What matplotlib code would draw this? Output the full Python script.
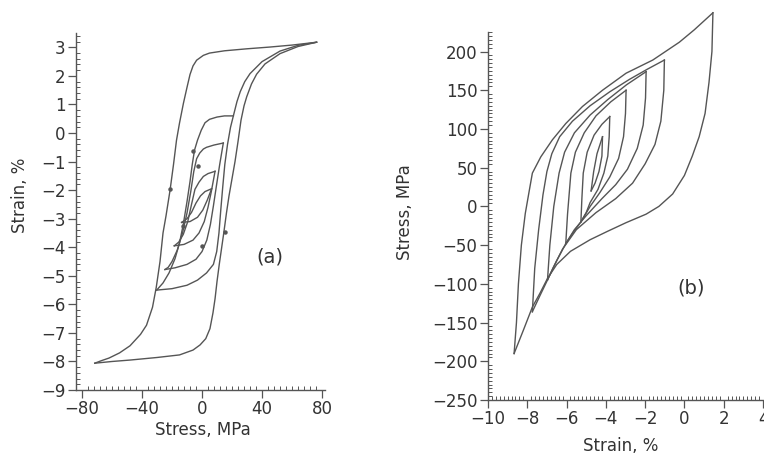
import matplotlib
matplotlib.use("Agg")
import matplotlib.pyplot as plt
from matplotlib.ticker import MultipleLocator
import numpy as np

# ---------------- Panel (a): Strain (%) vs Stress (MPa) ----------------
a_outer_down = [(76.4, 3.18), (60, 3.08), (45, 3.01), (30, 2.95), (15, 2.88), (5, 2.8), (0.9, 2.72),
                (-3.6, 2.55), (-6, 2.35), (-8, 2.05), (-10, 1.6), (-12.4, 1.04), (-15, 0.35),
                (-17, -0.25), (-19, -1.1), (-21.3, -2.0), (-24, -2.9), (-26, -3.5), (-28, -4.5),
                (-30.5, -5.4), (-33, -6.1), (-37, -6.73), (-41, -7.05), (-48, -7.45), (-55, -7.7),
                (-62, -7.88), (-67, -7.97), (-71.5, -8.06)]
a_outer_up = [(-71.5, -8.06), (-60, -8.0), (-48, -7.95), (-30, -7.86), (-15, -7.77), (-6, -7.6),
              (-1.3, -7.42), (2.5, -7.2), (5.3, -6.85), (7.3, -6.3), (8.7, -5.8), (10, -5.2),
              (11.5, -4.6), (13, -4.05), (14.5, -3.5), (16.3, -2.8), (18, -2.2), (20, -1.6),
              (22, -1.0), (24, -0.3), (26, 0.45), (28, 0.95), (29.8, 1.27), (33, 1.72),
              (36.4, 2.06), (42, 2.42), (52, 2.78), (64, 3.03), (76.4, 3.18)]
a_loop2_down = [(20.9, 0.6), (15, 0.6), (10, 0.56), (5, 0.48), (2, 0.36), (-0.5, 0.1), (-3.0, -0.25),
                (-5.0, -0.6), (-6.5, -1.1), (-8, -1.7), (-10, -2.4), (-12.5, -3.2), (-15, -3.85),
                (-18, -4.4), (-22, -4.9), (-26, -5.25), (-30.2, -5.5)]
a_loop2_up = [(-30.2, -5.5), (-20, -5.45), (-10, -5.33), (-3, -5.15), (3, -4.9), (7.6, -4.6),
              (9.8, -4.15), (11.3, -3.5), (12.5, -2.7), (13.8, -1.9), (15.2, -1.1), (17, -0.4),
              (19, 0.2), (20.9, 0.6), (23.3, 1.1), (25.5, 1.45), (28.5, 1.8), (32, 2.08),
              (40, 2.5), (52, 2.87), (64, 3.07), (76.4, 3.18)]
a_loop3_down = [(14.2, -0.35), (8, -0.42), (3, -0.5), (0.9, -0.56), (-1.5, -0.7), (-3.6, -0.9),
                (-5.5, -1.35), (-7.5, -2.05), (-10, -2.8), (-13, -3.5), (-16.5, -4.1),
                (-20, -4.5), (-22.5, -4.7), (-24.7, -4.78)]
a_loop3_up = [(-24.7, -4.78), (-18, -4.72), (-10, -4.6), (-4, -4.42), (0, -4.15), (3.2, -3.75),
              (5.6, -3.2), (7.6, -2.55), (9.6, -1.85), (11.8, -1.1), (14.2, -0.35)]
a_loop4_down = [(8.7, -1.34), (4, -1.42), (0.9, -1.52), (-2, -1.72), (-4.7, -1.97), (-7, -2.5),
                (-9.5, -3.1), (-12.5, -3.55), (-15.5, -3.82), (-18.5, -3.95)]
a_loop4_up = [(-18.5, -3.95), (-12, -3.9), (-6, -3.75), (-2, -3.5), (1.5, -3.1), (4, -2.6),
              (6.2, -2.05), (8.7, -1.34)]
a_loop5_down = [(6.4, -1.95), (2, -2.05), (-1, -2.2), (-4, -2.45), (-7, -2.78), (-10, -3.0),
                (-13.6, -3.13)]
a_loop5_up = [(-13.6, -3.13), (-8, -3.1), (-3, -2.95), (0.5, -2.7), (3.5, -2.35), (6.4, -1.95)]
a_dots = [(-21.3, -1.95), (-5.8, -0.64), (15.3, -3.48), (-2.4, -1.16), (-12.4, -3.25), (-0.2, -3.95)]

# ---------------- Panel (b): Stress (MPa) vs Strain (%) ----------------
b_outer_up = [(-8.67, -190), (-8.55, -150), (-8.45, -100), (-8.3, -50), (-8.1, -9), (-7.9, 20),
              (-7.74, 43), (-7.31, 64), (-6.72, 86), (-6.04, 107), (-5.19, 129), (-4.17, 150),
              (-2.97, 172), (-1.61, 189), (-0.26, 212), (0.5, 228), (1.45, 250)]
b_outer_down = [(1.45, 250), (1.4, 200), (1.25, 160), (1.05, 120), (0.75, 90), (0.4, 65), (0.0, 40),
                (-0.6, 16), (-1.3, 0), (-1.95, -10), (-2.97, -21), (-3.9, -32), (-4.8, -43),
                (-5.8, -58), (-6.5, -75), (-6.97, -93), (-7.35, -112), (-7.74, -130),
                (-8.2, -160), (-8.67, -190)]
b_loop2_up = [(-7.74, -136), (-7.62, -80), (-7.42, -30), (-7.2, 15), (-7.0, 45), (-6.75, 68),
              (-6.35, 90), (-5.7, 110), (-4.8, 130), (-3.8, 148), (-2.8, 164), (-1.9, 177),
              (-1.02, 189)]
b_loop2_down = [(-1.02, 189), (-1.05, 150), (-1.2, 110), (-1.5, 80), (-2.0, 55), (-2.64, 30),
                (-3.5, 10), (-4.5, -8), (-5.5, -30), (-6.2, -55), (-6.7, -80), (-6.97, -95),
                (-7.35, -115), (-7.74, -136)]
b_loop3_up = [(-6.97, -95), (-6.85, -50), (-6.65, 0), (-6.38, 43), (-6.1, 70), (-5.6, 95),
              (-4.8, 118), (-3.9, 138), (-2.95, 157), (-1.95, 174)]
b_loop3_down = [(-1.95, 174), (-1.98, 140), (-2.1, 105), (-2.4, 75), (-2.9, 48), (-3.5, 28),
                (-4.2, 10), (-5.0, -12), (-5.6, -30), (-6.04, -48), (-6.5, -70), (-6.97, -95)]
b_loop4_up = [(-6.04, -48), (-5.95, -10), (-5.78, 43), (-5.55, 70), (-5.1, 95), (-4.5, 117),
              (-3.75, 135), (-2.97, 150)]
b_loop4_down = [(-2.97, 150), (-3.0, 120), (-3.1, 90), (-3.35, 62), (-3.8, 38), (-4.3, 18),
                (-4.8, 0), (-5.27, -20), (-5.7, -35), (-6.04, -48)]
b_loop5_up = [(-5.27, -20), (-5.22, 10), (-5.15, 43), (-4.95, 70), (-4.6, 92), (-4.2, 106),
              (-3.8, 116)]
b_loop5_down = [(-3.8, 116), (-3.83, 90), (-3.9, 65), (-4.1, 43), (-4.4, 22), (-4.8, 5),
                (-5.0, -8), (-5.27, -20)]
b_loop6_up = [(-4.75, 20), (-4.62, 45), (-4.45, 68), (-4.17, 90)]
b_loop6_down = [(-4.17, 90), (-4.2, 65), (-4.35, 45), (-4.55, 30), (-4.75, 20)]

a_xticks = [-80, -40, 0, 40, 80]
a_yticks = [3, 2, 1, 0, -1, -2, -3, -4, -5, -6, -7, -8, -9]
b_xticks = [-10, -8, -6, -4, -2, 0, 2, 4]
b_yticks = [200, 150, 100, 50, 0, -50, -100, -150, -200, -250]

LINE = "#555555"
TEXT = "#333333"

fig = plt.figure(figsize=(7.64, 4.66), dpi=100)
axa = fig.add_axes([0.0995, 0.163, 0.3259, 0.766])
axb = fig.add_axes([0.6387, 0.1416, 0.3613, 0.7894])


def draw(ax, pts, **kw):
    arr = np.array(pts)
    ax.plot(arr[:, 0], arr[:, 1], color=LINE, lw=1.0, clip_on=False, solid_joinstyle="round", **kw)


for c in [a_outer_down, a_outer_up, a_loop2_down, a_loop2_up, a_loop3_down, a_loop3_up,
          a_loop4_down, a_loop4_up, a_loop5_down, a_loop5_up]:
    draw(axa, c)
d = np.array(a_dots)
axa.plot(d[:, 0], d[:, 1], "o", color=LINE, ms=2.2, ls="none")

for c in [b_outer_up, b_outer_down, b_loop2_up, b_loop2_down, b_loop3_up, b_loop3_down,
          b_loop4_up, b_loop4_down, b_loop5_up, b_loop5_down]:
    draw(axb, c)
draw(axb, b_loop6_up, )
draw(axb, b_loop6_down)

axa.set_xlim(-84, 82)
axa.set_ylim(-9, 3.5)
axb.set_xlim(-10, 4.05)
axb.set_ylim(-250, 225)

axa.set_xticks(a_xticks)
axa.set_yticks(a_yticks)
axa.xaxis.set_minor_locator(MultipleLocator(4))
axa.yaxis.set_minor_locator(MultipleLocator(0.2))
axb.set_xticks(b_xticks)
axb.set_yticks(b_yticks)
axb.xaxis.set_minor_locator(MultipleLocator(0.2))
axb.yaxis.set_minor_locator(MultipleLocator(5))

for ax in (axa, axb):
    ax.spines["top"].set_visible(False)
    ax.spines["right"].set_visible(False)
    for s in ("left", "bottom"):
        ax.spines[s].set_color(LINE)
        ax.spines[s].set_linewidth(1.0)
    ax.tick_params(which="major", direction="out", length=5.5, width=0.9, color=LINE,
                   labelsize=12, labelcolor=TEXT, pad=2)
    ax.tick_params(which="minor", direction="in", length=3, width=0.7, color=LINE)
    ax.set_facecolor("none")

axa.set_xlabel("Stress, MPa", fontsize=12, color=TEXT)
axa.set_ylabel("Strain, %", fontsize=12, color=TEXT)
axb.set_xlabel("Strain, %", fontsize=12, color=TEXT)
axb.set_ylabel("Stress, MPa", fontsize=12, color=TEXT)
for ax in (axa, axb):
    ax.xaxis.label.set_va("center")
    ax.yaxis.label.set_va("center")
axa.xaxis.set_label_coords(0.51, -0.112)
axa.yaxis.set_label_coords(-0.225, 0.545)
axb.xaxis.set_label_coords(0.48, -0.125)
axb.yaxis.set_label_coords(-0.30, 0.51)

axa.text(45, -4.35, "(a)", fontsize=14, color=TEXT, ha="center", va="center")
axb.text(0.34, -105, "(b)", fontsize=14, color=TEXT, ha="center", va="center")

fig.savefig("out.png", dpi=100, facecolor="white")
